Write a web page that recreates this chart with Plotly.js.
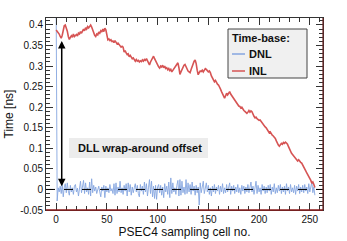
<!DOCTYPE html>
<html>
<head>
<meta charset="utf-8">
<script src="https://cdn.plot.ly/plotly-3.0.1.min.js"></script>
<style>html,body{margin:0;padding:0;background:#fff;}#chart{width:347px;height:241px;}</style>
</head>
<body>
<div id="chart"></div>
<script>
// ---- data ----
const inl = [
0.388,0.385,0.380,0.378,0.372,0.368,0.375,0.388,0.398,0.400,0.393,0.385,0.372,0.365,0.370,0.374,
0.370,0.378,0.372,0.376,0.377,0.373,0.380,0.378,0.384,0.380,0.386,0.390,0.386,0.393,0.390,0.396,
0.393,0.398,0.400,0.395,0.388,0.380,0.375,0.372,0.378,0.376,0.383,0.380,0.386,0.383,0.390,0.384,
0.392,0.388,0.372,0.364,0.366,0.362,0.364,0.360,0.361,0.357,0.362,0.358,0.354,0.356,0.352,0.350,
0.346,0.348,0.346,0.334,0.338,0.332,0.328,0.330,0.323,0.326,0.320,0.318,0.320,0.315,0.312,0.316,
0.312,0.314,0.310,0.313,0.311,0.315,0.312,0.316,0.314,0.318,0.312,0.308,0.303,0.310,0.316,0.320,
0.324,0.318,0.312,0.306,0.302,0.298,0.295,0.300,0.298,0.302,0.296,0.300,0.294,0.296,0.291,0.294,
0.289,0.292,0.286,0.290,0.294,0.298,0.302,0.306,0.308,0.296,0.280,0.286,0.292,0.298,0.302,0.304,
0.298,0.292,0.288,0.286,0.284,0.292,0.300,0.308,0.312,0.315,0.306,0.290,0.279,0.284,0.288,0.287,
0.290,0.286,0.291,0.294,0.292,0.290,0.286,0.288,0.284,0.276,0.272,0.266,0.262,0.265,0.259,0.256,
0.254,0.250,0.244,0.238,0.232,0.226,0.222,0.228,0.234,0.230,0.236,0.238,0.232,0.228,0.226,0.220,
0.216,0.212,0.209,0.206,0.203,0.202,0.198,0.200,0.195,0.192,0.190,0.186,0.185,0.188,0.192,0.188,
0.191,0.189,0.182,0.178,0.174,0.176,0.172,0.170,0.168,0.169,0.165,0.163,0.160,0.156,0.152,0.150,
0.146,0.141,0.138,0.140,0.135,0.132,0.130,0.128,0.124,0.118,0.112,0.108,0.105,0.108,0.112,0.110,
0.114,0.112,0.115,0.113,0.110,0.104,0.098,0.094,0.088,0.085,0.082,0.080,0.076,0.072,0.069,0.072,
0.068,0.066,0.064,0.060,0.055,0.050,0.045,0.040,0.036,0.032,0.028,0.022,0.015,0.018,0.012,0.005
];
const dnl = [
0.45,-0.028,0.004,-0.006,0.008,-0.010,0.012,-0.018,0.006,0.014,-0.008,0.016,-0.004,-0.014,0.010,-0.006,
0.004,-0.012,0.008,0.012,-0.006,0.003,-0.016,0.010,0.020,-0.008,0.006,0.022,-0.010,0.016,-0.006,0.004,
-0.012,0.018,-0.016,0.026,-0.008,0.010,-0.004,0.006,-0.010,0.004,0.008,-0.006,-0.018,0.006,-0.004,0.010,
-0.020,0.008,-0.006,0.004,-0.008,0.012,-0.004,0.002,-0.010,0.014,-0.014,0.016,-0.010,0.006,-0.006,0.020,
-0.008,0.004,-0.012,0.010,-0.004,0.014,-0.016,0.016,-0.006,0.012,-0.014,0.006,-0.008,0.004,0.014,-0.006,
0.010,-0.010,-0.018,0.012,-0.004,0.008,-0.012,0.018,-0.006,0.014,-0.016,0.004,0.024,-0.010,0.020,-0.018,
0.008,-0.022,0.010,-0.024,0.006,0.012,-0.008,0.010,-0.014,0.006,-0.020,0.014,-0.006,0.008,-0.012,0.018,
-0.020,0.028,-0.010,0.016,-0.006,0.004,-0.012,0.010,0.022,-0.016,0.024,-0.014,0.020,-0.008,0.006,-0.012,
0.024,-0.010,0.016,-0.006,0.012,-0.012,0.018,-0.004,0.008,-0.014,0.010,-0.008,0.006,-0.038,0.016,-0.008,
0.004,0.020,-0.010,0.008,0.016,-0.006,0.010,-0.012,0.004,-0.016,0.008,-0.006,0.012,-0.010,0.006,-0.004,
0.010,-0.012,0.008,-0.006,0.014,-0.010,0.004,-0.008,0.012,-0.006,0.006,0.016,-0.012,0.008,-0.004,0.010,
-0.010,0.006,-0.006,0.012,-0.008,0.004,-0.012,0.010,-0.004,0.008,-0.010,0.006,-0.006,0.012,-0.008,0.004,
0.018,-0.006,0.008,-0.012,0.006,0.020,-0.010,0.010,-0.006,0.004,-0.012,0.012,-0.004,0.008,-0.010,0.006,
-0.008,0.010,-0.004,0.012,-0.012,0.006,-0.006,0.014,-0.010,0.004,-0.008,0.010,-0.004,0.012,-0.010,0.006,
-0.006,0.008,-0.012,0.014,-0.004,0.006,-0.010,0.012,-0.006,0.004,-0.008,0.010,-0.012,0.008,-0.004,0.012,
-0.010,0.006,-0.006,0.010,-0.008,0.012,-0.004,0.006,-0.010,0.014,-0.006,0.008,0.018,-0.008,0.006,-0.014
];
const cells = inl.map((_, i) => i);
const xTickVals = [0, 50, 100, 150, 200, 250];
const xTickText = ['0', '50', '100', '150', '200', '250'];
const yTickVals = [-0.05, 0, 0.05, 0.1, 0.15, 0.2, 0.25, 0.3, 0.35, 0.4];
const yTickText = ['-0.05', '0', '0.05', '0.1', '0.15', '0.2', '0.25', '0.3', '0.35', '0.4'];
const seriesNames = ['DNL', 'INL'];
const legendTitle = 'Time-base:';
const labelText = 'DLL wrap-around offset';
const arrowCell = 5.5, arrowTop = 0.365, arrowBottom = 0.008;

const BLUE = '#86a6e0', RED = '#d65454', FONT = 'Liberation Sans, Arial, sans-serif';

const traces = [
  {x: cells, y: dnl, type: 'scatter', mode: 'lines', name: seriesNames[0],
   line: {color: BLUE, width: 0.9}, showlegend: false},
  {x: cells, y: inl, type: 'scatter', mode: 'lines', name: seriesNames[1],
   line: {color: RED, width: 1.6}, showlegend: false}
];

const px = v => (v - 46) / 277, py = v => (210 - v) / 192;

const layout = {
  width: 347, height: 241,
  margin: {l: 46, r: 24, t: 18, b: 31},
  paper_bgcolor: '#fff', plot_bgcolor: '#fff',
  font: {family: FONT, color: '#111', size: 10},
  xaxis: {
    range: [-10, 263], tickvals: xTickVals, ticktext: xTickText,
    ticks: 'inside', ticklen: 7, tickcolor: '#333', tickwidth: 1,
    minor: {dtick: 10, tick0: 0, ticks: 'inside', ticklen: 4, tickcolor: '#333', showgrid: false},
    showline: true, linecolor: '#333', linewidth: 1, mirror: 'allticks',
    showgrid: false, zeroline: false,
    tickfont: {size: 10, family: FONT, color: '#111'},
    title: {text: 'PSEC4 sampling cell no.', font: {size: 12, family: FONT, color: '#111'}, standoff: 2}
  },
  yaxis: {
    range: [-0.05, 0.417], tickvals: yTickVals, ticktext: yTickText,
    ticks: 'inside', ticklen: 7, tickcolor: '#333', tickwidth: 1,
    minor: {dtick: 0.01, tick0: 0, ticks: 'inside', ticklen: 4, tickcolor: '#333', showgrid: false},
    showline: true, linecolor: '#333', linewidth: 1, mirror: 'allticks',
    showgrid: false, zeroline: false,
    tickfont: {size: 10, family: FONT, color: '#111'},
    title: {text: 'Time [ns]', font: {size: 12, family: FONT, color: '#111'}, standoff: 4}
  },
  shapes: [
    {type: 'line', xref: 'paper', yref: 'y', x0: 0, x1: 1, y0: 0, y1: 0,
     line: {color: '#000', width: 1, dash: 'dash'}},
    {type: 'line', xref: 'paper', yref: 'paper', x0: 0, x1: 1, y0: 0, y1: 0,
     line: {color: '#8e1c1c', width: 1.5}},
    {type: 'line', xref: 'paper', yref: 'paper', x0: 1, x1: 1, y0: 0, y1: 1,
     line: {color: '#6e2424', width: 1.2}},
    {type: 'rect', xref: 'paper', yref: 'paper', x0: px(69), x1: px(208), y0: py(158), y1: py(138),
     fillcolor: '#ececec', line: {width: 0}},
    {type: 'rect', xref: 'paper', yref: 'paper', x0: px(228), x1: px(307), y0: py(78), y1: py(29),
     fillcolor: '#f0f0f0', line: {color: '#444', width: 1}},
    {type: 'line', xref: 'paper', yref: 'paper', x0: px(232), x1: px(245), y0: py(54), y1: py(54),
     line: {color: BLUE, width: 1.5}},
    {type: 'line', xref: 'paper', yref: 'paper', x0: px(232), x1: px(245), y0: py(71), y1: py(71),
     line: {color: RED, width: 1.5}}
  ],
  annotations: [
    {xref: 'paper', yref: 'paper', x: px(76), y: py(147.5), xanchor: 'left', yanchor: 'middle',
     text: '<b>' + labelText + '</b>', showarrow: false, font: {size: 11, family: FONT, color: '#111'}},
    {xref: 'paper', yref: 'paper', x: px(230), y: py(37.5), xanchor: 'left', yanchor: 'middle',
     text: '<b>' + legendTitle + '</b>', showarrow: false, font: {size: 11, family: FONT, color: '#111'}},
    {xref: 'paper', yref: 'paper', x: px(247), y: py(54), xanchor: 'left', yanchor: 'middle',
     text: '<b>' + seriesNames[0] + '</b>', showarrow: false, font: {size: 11, family: FONT, color: '#111'}},
    {xref: 'paper', yref: 'paper', x: px(247), y: py(71), xanchor: 'left', yanchor: 'middle',
     text: '<b>' + seriesNames[1] + '</b>', showarrow: false, font: {size: 11, family: FONT, color: '#111'}},
    {xref: 'x', yref: 'y', x: arrowCell, y: arrowBottom, axref: 'x', ayref: 'y', ax: arrowCell, ay: arrowTop,
     text: '', showarrow: true, arrowhead: 2, startarrowhead: 2, arrowside: 'end+start',
     arrowwidth: 1.5, arrowsize: 1, startarrowsize: 1, arrowcolor: '#000', standoff: 0, startstandoff: 0}
  ]
};

Plotly.newPlot('chart', traces, layout, {displayModeBar: false, staticPlot: true});
</script>
</body>
</html>
